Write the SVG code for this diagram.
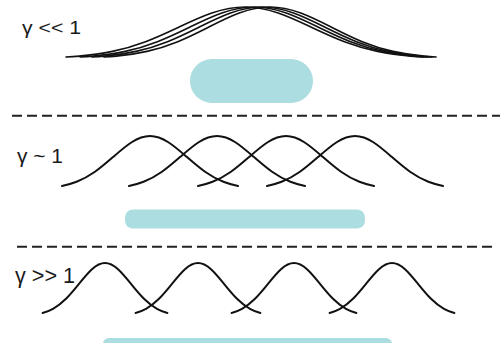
<svg xmlns="http://www.w3.org/2000/svg" xmlns:xlink="http://www.w3.org/1999/xlink" width="504" height="343" viewBox="0 0 504 343">
<style>
.lbl{font-family:"Liberation Sans",Arial,sans-serif;fill:#1a1a1a}
.curve{fill:none;stroke:#111;stroke-linecap:round;stroke-linejoin:round}
.c1{stroke-width:2}
.c0{stroke-width:1.6}
.dash{stroke:#222;stroke-width:2;stroke-dasharray:10 5;fill:none}
.band{fill:#acdde1}
</style>
<defs>
<path id="g27" vector-effect="non-scaling-stroke" d="M-2.7,-0.02612 C-2.63333,-0.03082 -2.56667,-0.03662 -2.5,-0.04394 C-2.3333,-0.06225 -2.1667,-0.09023 -2,-0.13534 C-1.8333,-0.18045 -1.6667,-0.24349 -1.5,-0.32465 C-1.3333,-0.40581 -1.1667,-0.50544 -1,-0.60653 C-0.8333,-0.70762 -0.6667,-0.80896 -0.5,-0.8825 C-0.3333,-0.95604 -0.1667,-1 0,-1 C0.1667,-1 0.3333,-0.95604 0.5,-0.8825 C0.6667,-0.80896 0.8333,-0.70762 1,-0.60653 C1.1667,-0.50544 1.3333,-0.40581 1.5,-0.32465 C1.6667,-0.24349 1.8333,-0.18045 2,-0.13534 C2.1667,-0.09023 2.3333,-0.06225 2.5,-0.04394 C2.56667,-0.03662 2.63333,-0.03082 2.7,-0.02612"/>
<path id="g24" vector-effect="non-scaling-stroke" d="M-2.4,-0.05613 C-2.26667,-0.07409 -2.13333,-0.09925 -2,-0.13534 C-1.8333,-0.18045 -1.6667,-0.24349 -1.5,-0.32465 C-1.3333,-0.40581 -1.1667,-0.50544 -1,-0.60653 C-0.8333,-0.70762 -0.6667,-0.80896 -0.5,-0.8825 C-0.3333,-0.95604 -0.1667,-1 0,-1 C0.1667,-1 0.3333,-0.95604 0.5,-0.8825 C0.6667,-0.80896 0.8333,-0.70762 1,-0.60653 C1.1667,-0.50544 1.3333,-0.40581 1.5,-0.32465 C1.6667,-0.24349 1.8333,-0.18045 2,-0.13534 C2.13333,-0.09925 2.26667,-0.07409 2.4,-0.05613"/>
</defs>
<g id="separators">
<line class="dash" x1="12" y1="115.7" x2="500" y2="115.7"/>
<line class="dash" x1="17" y1="246.7" x2="494" y2="246.7"/>
</g>
<g id="panel-low">
<text class="lbl" x="22" y="34" font-size="18" textLength="59" lengthAdjust="spacingAndGlyphs">γ &lt;&lt; 1</text>
<g class="curve c0">
<use xlink:href="#g27" transform="translate(245,58.34) scale(66.3,51.34)"/>
<use xlink:href="#g27" transform="translate(254,58.34) scale(64.4,51.34)"/>
<use xlink:href="#g27" transform="translate(262,58.34) scale(63,51.34)"/>
<use xlink:href="#g27" transform="translate(270,58.34) scale(61.5,51.34)"/>
</g>
<rect class="band" x="190" y="59" width="123" height="44" rx="22"/>
</g>
<g id="panel-mid">
<text class="lbl" x="17" y="163" font-size="21" textLength="46" lengthAdjust="spacingAndGlyphs">γ ~ 1</text>
<g class="curve c1">
<use xlink:href="#g24" transform="translate(150,188.97) scale(36.7,52.97)"/>
<use xlink:href="#g24" transform="translate(217,188.97) scale(36.7,52.97)"/>
<use xlink:href="#g24" transform="translate(286,188.97) scale(36.7,52.97)"/>
<use xlink:href="#g24" transform="translate(355,188.97) scale(36.7,52.97)"/>
</g>
<rect class="band" x="125" y="209.5" width="240" height="19" rx="8"/>
</g>
<g id="panel-high">
<text class="lbl" x="15" y="283" font-size="22" textLength="60" lengthAdjust="spacingAndGlyphs">γ &gt;&gt; 1</text>
<g class="curve c1">
<use xlink:href="#g24" transform="translate(105,315.97) scale(26,52.97)"/>
<use xlink:href="#g24" transform="translate(198,315.97) scale(26,52.97)"/>
<use xlink:href="#g24" transform="translate(294,315.97) scale(26,52.97)"/>
<use xlink:href="#g24" transform="translate(392,315.97) scale(26,52.97)"/>
</g>
<rect class="band" x="103" y="338" width="289" height="14" rx="6"/>
</g>
</svg>
